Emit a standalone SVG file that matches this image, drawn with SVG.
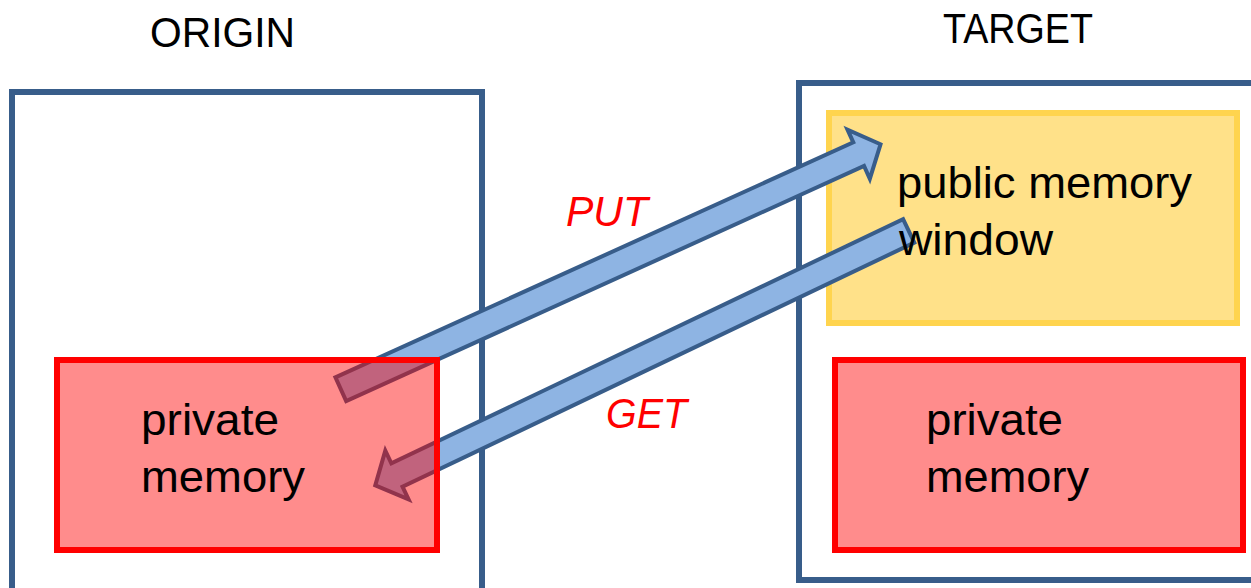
<svg xmlns="http://www.w3.org/2000/svg" width="1251" height="588" viewBox="0 0 1251 588">
  <style>
    .frame { fill: none; stroke: #385D8A; stroke-width: 6; }
    .window { fill: #FFE189; stroke: #FFD44E; stroke-width: 6; }
    .priv { fill: #FF0000; fill-opacity: 0.45; stroke: #FF0000; stroke-width: 6; }
    .arrow { fill: #8EB4E3; stroke: #385D8A; stroke-width: 4; stroke-linejoin: miter; stroke-miterlimit: 10; }
    .title { font-family: "Liberation Sans", Arial, sans-serif; font-size: 42px; fill: #000000; }
    .label { font-family: "Liberation Sans", Arial, sans-serif; font-size: 44px; fill: #000000; }
    .op { font-family: "Liberation Sans", Arial, sans-serif; font-size: 42px; font-style: italic; fill: #FF0000; }
  </style>
  <rect width="1251" height="588" fill="#FFFFFF"/>

  <!-- process frames -->
  <g id="origin">
    <rect class="frame" x="12" y="92" width="470" height="520"/>
    <text class="title" x="150" y="47" textLength="145" lengthAdjust="spacingAndGlyphs">ORIGIN</text>
  </g>
  <g id="target">
    <rect class="frame" x="799" y="83" width="470" height="497"/>
    <text class="title" x="943" y="43" textLength="150" lengthAdjust="spacingAndGlyphs">TARGET</text>
  </g>

  <!-- exposed window on the target -->
  <g id="public-window">
    <rect class="window" x="829" y="113" width="408" height="210"/>
  </g>

  <!-- one-sided operations -->
  <g id="connectors">
    <g id="put">
      <polygon class="arrow" transform="translate(340.8,389.2) rotate(-24.41)"
               points="0,-13 568.7,-13 568.7,-27 592.7,0 568.7,27 568.7,13 0,13"/>
      <text class="op" x="566" y="226" textLength="82" lengthAdjust="spacingAndGlyphs">PUT</text>
    </g>
    <g id="get">
      <polygon class="arrow" transform="translate(908.7,230.9) rotate(154.5)"
               points="0,-13 567,-13 567,-27 591,0 567,27 567,13 0,13"/>
      <text class="op" x="606" y="428" textLength="81" lengthAdjust="spacingAndGlyphs">GET</text>
    </g>
  </g>

  <!-- private memories (translucent, over the arrows) -->
  <g id="origin-private">
    <rect class="priv" x="57" y="360" width="380" height="190"/>
    <text class="label" x="141" y="435" textLength="138" lengthAdjust="spacingAndGlyphs">private</text>
    <text class="label" x="141" y="492" textLength="164" lengthAdjust="spacingAndGlyphs">memory</text>
  </g>
  <g id="target-private">
    <rect class="priv" x="835" y="360" width="408" height="190"/>
    <text class="label" x="926" y="435" textLength="137" lengthAdjust="spacingAndGlyphs">private</text>
    <text class="label" x="926" y="492" textLength="163" lengthAdjust="spacingAndGlyphs">memory</text>
  </g>

  <!-- window caption sits above the arrows -->
  <g id="public-window-label">
    <text class="label" x="897" y="198" textLength="295" lengthAdjust="spacingAndGlyphs">public memory</text>
    <text class="label" x="899" y="255" textLength="154" lengthAdjust="spacingAndGlyphs">window</text>
  </g>
</svg>
